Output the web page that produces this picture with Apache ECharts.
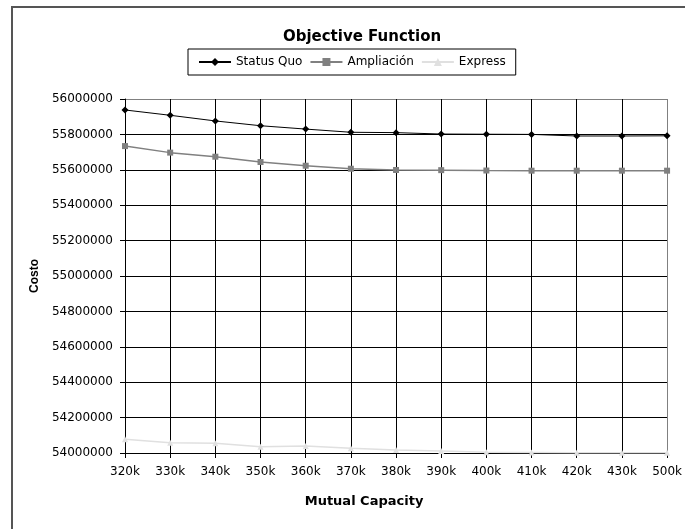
<!DOCTYPE html>
<html>
<head>
<meta charset="utf-8">
<script src="https://cdn.jsdelivr.net/npm/echarts@6/dist/echarts.min.js"></script>
<style>
html,body{margin:0;padding:0;background:#fff;}
#chart{width:685px;height:529px;}
</style>
</head>
<body>
<div id="chart"></div>
<script>
var categories = ['320k','330k','340k','350k','360k','370k','380k','390k','400k','410k','420k','430k','500k'];
var statusQuo = [55938000,55908000,55876000,55849000,55830000,55812000,55810000,55802000,55801000,55800000,55791000,55791000,55792000];
var ampliacion = [55734000,55697000,55674000,55644000,55623000,55606000,55599000,55598000,55596000,55595000,55595000,55595000,55595000];
var express = [54077000,54058000,54055000,54036000,54040000,54027000,54017000,54011000,54004000,54003000,54001000,54001000,54001000];
var yMin = 54000000, yMax = 56000000, yStep = 200000;

var yLineColors = [];
for (var v = yMin; v <= yMax; v += yStep) yLineColors.push(v === yMax ? '#808080' : '#000');
var xLineColors = categories.map(function(c, i){ return i === categories.length - 1 ? '#808080' : '#000'; });

var chart = echarts.init(document.getElementById('chart'));
chart.setOption({
  backgroundColor: '#fff',
  animation: false,
  title: {
    text: 'Objective Function',
    left: 357, top: 25, textAlign: 'center',
    textStyle: {fontFamily: 'DejaVu Sans', fontWeight: 'bold', fontSize: 15, color: '#000'}
  },
  legend: {
    left: 188, top: 49,
    padding: [7, 10],
    itemGap: 7,
    itemWidth: 32, itemHeight: 10,
    borderColor: '#000', borderWidth: 1,
    textStyle: {fontFamily: 'DejaVu Sans', fontSize: 12, color: '#000'},
    data: ['Status Quo', 'Ampliación', 'Express']
  },
  graphic: [{
    type: 'rect', silent: true,
    shape: {x: 12, y: 7, width: 720, height: 600},
    style: {fill: 'none', stroke: '#555', lineWidth: 2}
  }],
  grid: {left: 125, right: 15, top: 99, bottom: 76, containLabel: false},
  xAxis: {
    type: 'category',
    data: categories,
    boundaryGap: false,
    name: 'Mutual Capacity',
    nameLocation: 'middle',
    nameGap: 42,
    nameTextStyle: {fontFamily: 'DejaVu Sans', fontWeight: 'bold', fontSize: 13, color: '#000', padding: [0, 64, 0, 0]},
    axisLine: {lineStyle: {color: '#000', width: 1}},
    axisTick: {show: true, alignWithLabel: true, length: 5, lineStyle: {color: '#000'}},
    axisLabel: {fontFamily: 'DejaVu Sans', fontSize: 12, color: '#000', margin: 13, interval: 0},
    splitLine: {show: true, lineStyle: {color: xLineColors, width: 1}}
  },
  yAxis: {
    type: 'value',
    min: yMin, max: yMax, interval: yStep,
    name: 'Costo',
    nameLocation: 'middle',
    nameGap: 82,
    nameTextStyle: {fontFamily: 'Liberation Sans', fontWeight: 'bold', fontSize: 12, color: '#000'},
    axisLine: {show: true, lineStyle: {color: '#000', width: 1}},
    axisTick: {show: true, length: 5, lineStyle: {color: '#000'}},
    axisLabel: {fontFamily: 'DejaVu Sans', fontSize: 12, color: '#000', margin: 12,
      formatter: function(v){ return String(v); }},
    splitLine: {show: true, lineStyle: {color: yLineColors, width: 1}}
  },
  series: [
    {name: 'Status Quo', type: 'line', data: statusQuo, symbol: 'diamond', symbolSize: 7,
      itemStyle: {color: '#000'}, lineStyle: {color: '#000', width: 1}},
    {name: 'Ampliación', type: 'line', data: ampliacion, symbol: 'rect', symbolSize: 6,
      itemStyle: {color: '#808080'}, lineStyle: {color: '#808080', width: 1.5}},
    {name: 'Express', type: 'line', data: express, symbol: 'triangle', symbolSize: 6,
      itemStyle: {color: '#e0e0e0'}, lineStyle: {color: '#e0e0e0', width: 1.5}}
  ]
});
</script>
</body>
</html>
